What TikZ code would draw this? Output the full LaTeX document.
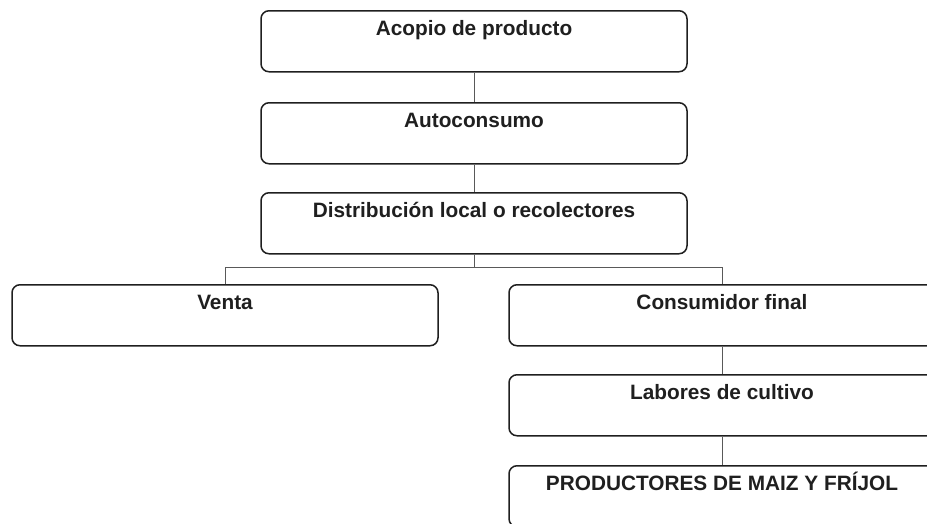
\documentclass[tikz,border=0pt]{standalone}
\usepackage{fontspec}
\setmainfont{Liberation Sans}
\begin{document}
\begin{tikzpicture}[x=1pt,y=-1pt,
  box/.style={draw=black!88, line width=1.5pt, rounded corners=8pt,
    minimum width=426pt, inner xsep=0pt, inner ysep=0pt,
    text height=24.5pt, text depth=36.5pt, anchor=north,
    font=\fontsize{20.8}{25}\selectfont\bfseries, text=black!88},
  conn/.style={draw=black!65, line width=1pt}]
\useasboundingbox (0,0) rectangle (927,523);
\clip (0,0) rectangle (927,523);
\node[box] (acopio) at (474,10) {Acopio de producto};
\node[box] (auto) at (474,102) {Autoconsumo};
\node[box] (dist) at (474,192) {Distribución local o recolectores};
\node[box] (venta) at (225,284) {Venta};
\node[box] (cons) at (722,284) {Consumidor final};
\node[box] (lab) at (722,374) {Labores de cultivo};
\node[box] (prod) at (722,465) {PRODUCTORES DE MAIZ Y FRÍJOL};
\coordinate (split) at (474,267);
\draw[conn] (acopio.south) -- (auto.north);
\draw[conn] (auto.south) -- (dist.north);
\draw[conn] (dist.south) -- (split);
\draw[conn] (split) -| (venta.north);
\draw[conn] (split) -| (cons.north);
\draw[conn] (cons.south) -- (lab.north);
\draw[conn] (lab.south) -- (prod.north);
\end{tikzpicture}
\end{document}
